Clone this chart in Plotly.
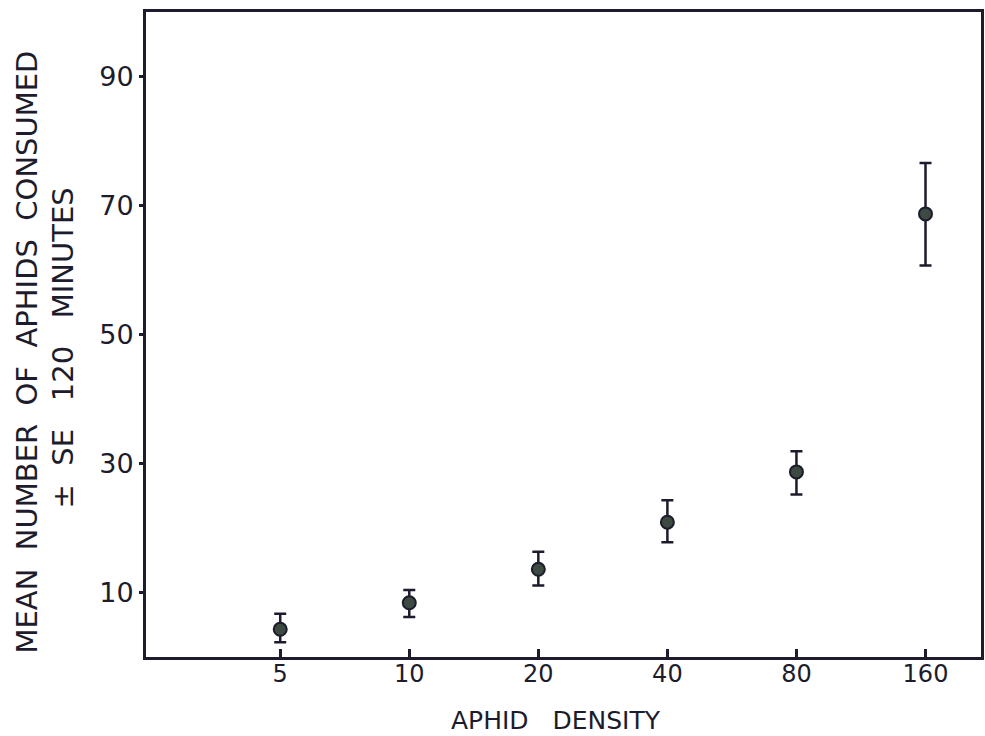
import plotly.graph_objects as go

densities = ["5", "10", "20", "40", "80", "160"]
positions = [1, 2, 3, 4, 5, 6]
mean_consumed = [4.3, 8.4, 13.6, 20.9, 28.7, 68.7]
se_upper = [2.4, 2.0, 2.7, 3.4, 3.2, 7.9]
se_lower = [2.0, 2.2, 2.5, 3.1, 3.5, 8.0]
y_ticks = [10, 30, 50, 70, 90]
x_range = [-0.04, 6.43]

ink = "#1c1c2c"
font_family = "'DejaVu Sans', Verdana, sans-serif"
sp2 = "&nbsp;&nbsp;"
sp3 = "&nbsp;&nbsp;&nbsp;"

fig = go.Figure()
fig.add_trace(go.Scatter(
    x=positions, y=mean_consumed, mode="markers",
    marker=dict(size=13, color="#3d4a42", line=dict(color=ink, width=2)),
    error_y=dict(type="data", symmetric=False, array=se_upper, arrayminus=se_lower,
                 color=ink, thickness=2.5, width=6),
    showlegend=False,
))
# invisible copy on the label axis so that its tick labels are drawn
fig.add_trace(go.Scatter(
    x=positions, y=mean_consumed, mode="markers", xaxis="x2",
    marker=dict(size=1, opacity=0), hoverinfo="skip", showlegend=False,
))

fig.update_layout(
    width=985, height=736,
    margin=dict(l=146, r=1, t=12, b=79),
    paper_bgcolor="white", plot_bgcolor="white",
    font=dict(family=font_family, color=ink),
    xaxis=dict(
        range=x_range, tickvals=positions, showticklabels=False,
        ticks="inside", ticklen=8, tickwidth=3, tickcolor=ink,
        showgrid=False, zeroline=False,
        showline=True, linewidth=3, linecolor=ink, mirror=True,
    ),
    xaxis2=dict(
        overlaying="x", anchor="free", position=0, side="bottom",
        range=x_range, tickvals=positions, ticktext=densities,
        ticks="", showline=False, showgrid=False, zeroline=False,
        tickfont=dict(size=24, color=ink),
    ),
    yaxis=dict(
        range=[0, 100], tickvals=y_ticks,
        ticks="outside", ticklen=4, tickwidth=3, tickcolor=ink,
        showgrid=False, zeroline=False,
        showline=True, linewidth=3, linecolor=ink, mirror=True,
        tickfont=dict(size=27, color=ink),
    ),
    annotations=[
        dict(text="APHID" + sp3 + "DENSITY", xref="paper", yref="paper",
             x=0.491, y=-0.098, xanchor="center", yanchor="middle",
             showarrow=False, font=dict(size=25, color=ink)),
        dict(text="MEAN" + sp2 + "NUMBER" + sp2 + "OF" + sp2 + "APHIDS" + sp2 + "CONSUMED",
             xref="paper", yref="paper",
             x=-0.143, y=0.473, xanchor="center", yanchor="middle", textangle=-90,
             showarrow=False, font=dict(size=29, color=ink)),
        dict(text="±" + sp2 + "SE" + sp3 + "120" + sp3 + "MINUTES", xref="paper", yref="paper",
             x=-0.099, y=0.479, xanchor="center", yanchor="middle", textangle=-90,
             showarrow=False, font=dict(size=29, color=ink)),
    ],
)

fig.write_html("out.html")
